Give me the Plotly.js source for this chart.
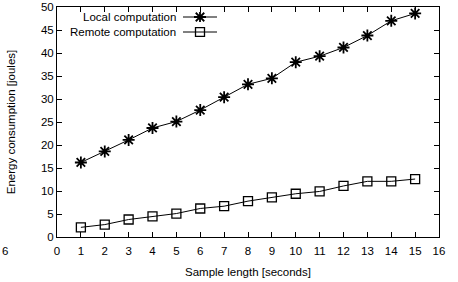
<!DOCTYPE html>
<html><head><meta charset="utf-8">
<script src="https://cdn.plot.ly/plotly-3.0.1.min.js"></script>
<style>html,body{margin:0;padding:0;background:#fff}#c{width:458px;height:282px}</style>
</head><body><div id="c"></div>
<script>
const sampleLength = [1,2,3,4,5,6,7,8,9,10,11,12,13,14,15];
const localEnergy = [16.2,18.6,21.1,23.7,25.1,27.6,30.4,33.2,34.5,38.0,39.3,41.2,43.8,47.0,48.6];
const remoteEnergy = [2.1,2.7,3.8,4.5,5.1,6.2,6.7,7.8,8.6,9.4,9.9,11.1,12.1,12.1,12.6];
const seriesNames = ["Local computation","Remote computation"];

const font = {family:"Liberation Sans, Arial, sans-serif", size:11.5, color:"#000"};
const traces = [
  {x:sampleLength, y:localEnergy, name:seriesNames[0], mode:"lines+markers", type:"scatter",
   line:{color:"#000", width:1}, marker:{symbol:"asterisk-open", size:10, color:"#000", line:{color:"#000", width:1.8}}},
  {x:sampleLength, y:remoteEnergy, name:seriesNames[1], mode:"lines+markers", type:"scatter",
   line:{color:"#000", width:1}, marker:{symbol:"square-open", size:9, color:"#000", line:{color:"#000", width:1.3}}},
  // legend key samples (paper-like overlay axes)
  {x:[0.5], y:[0.5], xaxis:"x2", yaxis:"y2", mode:"markers", showlegend:false, hoverinfo:"skip",
   marker:{symbol:"asterisk-open", size:10, color:"#000", line:{color:"#000", width:1.8}}},
  {x:[0.5], y:[0.5], xaxis:"x3", yaxis:"y3", mode:"markers", showlegend:false, hoverinfo:"skip",
   marker:{symbol:"square-open", size:9, color:"#000", line:{color:"#000", width:1.3}}}
];
const layout = {
  width:458, height:282, margin:{l:57, r:19, t:7, b:45},
  paper_bgcolor:"#fff", plot_bgcolor:"#fff", font:font, showlegend:false,
  xaxis:{range:[0,16], dtick:1, tick0:0, ticks:"inside", ticklen:5, tickcolor:"#000",
    showline:true, linecolor:"#000", linewidth:1, mirror:"ticks", showgrid:false, zeroline:false,
    ticklabelstandoff:3,
    tickfont:font, title:{text:"Sample length [seconds]", font:font, standoff:12}},
  yaxis:{range:[0,50], dtick:5, tick0:0, ticks:"inside", ticklen:5, tickcolor:"#000",
    showline:true, linecolor:"#000", linewidth:1, mirror:"ticks", showgrid:false, zeroline:false,
    tickfont:font, title:{text:"Energy consumption [joules]", font:font, standoff:22}},
  xaxis2:{domain:[(183-57)/382,(217-57)/382], range:[0,1], visible:false, fixedrange:true},
  yaxis2:{domain:[1-(17+5-7)/230,1-(17-5-7)/230], range:[0,1], visible:false, anchor:"x2", fixedrange:true},
  xaxis3:{domain:[(183-57)/382,(217-57)/382], range:[0,1], visible:false, fixedrange:true},
  yaxis3:{domain:[1-(32+5-7)/230,1-(32-5-7)/230], range:[0,1], visible:false, anchor:"x3", fixedrange:true},
  shapes:[
    {type:"line", xref:"paper", yref:"paper", x0:(183-57)/382, x1:(217-57)/382, y0:1-(17-7)/230, y1:1-(17-7)/230, line:{color:"#000", width:1}},
    {type:"line", xref:"paper", yref:"paper", x0:(183-57)/382, x1:(217-57)/382, y0:1-(32-7)/230, y1:1-(32-7)/230, line:{color:"#000", width:1}}
  ],
  annotations:[
    {text:seriesNames[0], xref:"paper", yref:"paper", x:(178-57)/382, y:1-(17-7)/230, xanchor:"right", yanchor:"middle", showarrow:false, font:font},
    {text:seriesNames[1], xref:"paper", yref:"paper", x:(178-57)/382, y:1-(32-7)/230, xanchor:"right", yanchor:"middle", showarrow:false, font:font},
    {text:"6", xref:"paper", yref:"paper", x:(0-57)/382, y:-(251-237)/230, xanchor:"left", yanchor:"middle", showarrow:false, font:font}
  ]
};
Plotly.newPlot("c", traces, layout, {staticPlot:true, displayModeBar:false});
</script></body></html>
